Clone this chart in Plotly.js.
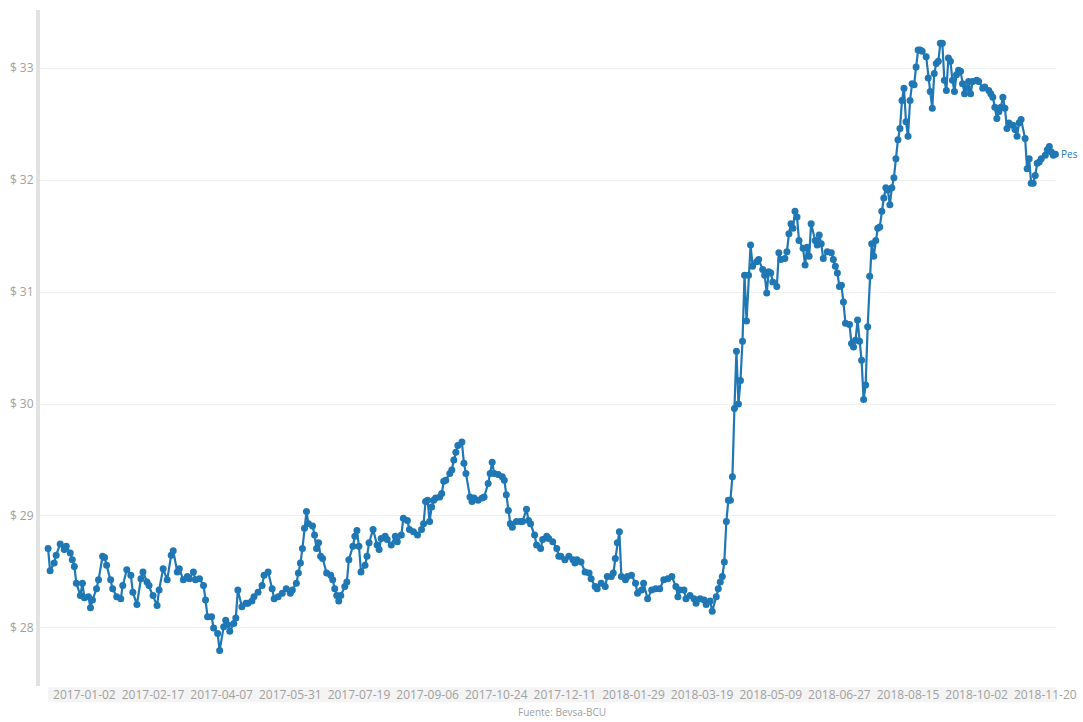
<!DOCTYPE html>
<html>
<head>
<meta charset="utf-8">
<script src="https://cdn.plot.ly/plotly-3.0.1.min.js"></script>
<style>
  html, body { margin: 0; padding: 0; background: #fff; }
  #chart { width: 1083px; height: 722px; }
</style>
</head>
<body>
<div id="chart"></div>
<script>
// Trading session number (0 = first session shown) and price in $ per USD
const sessions = [
  0,1,3,4,6,8,9,11,12,13,14,16,17,18,20,21,22,24,25,27,28,29,31,32,34,36,37,39,41,42,44,46,47,49,50,52,54,55,57,59,
  61,62,64,65,67,69,70,72,73,75,77,78,79,81,82,84,85,87,88,89,90,92,93,94,96,98,99,101,102,104,106,107,109,111,112,114,116,118,120,121,
  123,124,125,126,127,128,129,131,132,133,134,135,136,138,140,141,142,143,144,145,147,148,149,151,152,153,154,155,157,158,159,161,163,164,165,167,168,170,172,173,
  175,176,178,179,181,183,185,186,187,188,189,190,191,192,194,195,196,197,199,200,201,202,203,205,206,207,209,210,211,213,215,216,218,219,220,221,223,225,226,227,
  228,229,230,232,234,235,237,238,239,241,242,244,245,247,248,250,252,253,254,256,258,260,261,262,264,266,268,269,271,272,274,276,277,279,280,281,282,283,284,286,
  287,289,291,292,294,295,297,299,301,303,305,307,309,311,312,313,315,316,318,320,321,323,325,326,328,329,331,332,333,334,335,336,337,338,339,340,341,342,343,344,
  345,346,347,348,349,351,352,354,355,356,357,358,359,361,362,363,365,366,367,368,369,370,371,372,374,375,376,377,378,380,381,382,383,384,386,388,389,390,391,392,
  393,394,395,397,398,399,400,401,402,403,404,405,406,407,408,409,410,411,412,413,414,415,416,417,418,419,420,421,422,423,424,425,426,427,428,429,430,431,432,433,
  435,436,437,438,439,440,441,442,443,444,445,446,447,448,449,450,451,452,453,454,455,456,457,458,460,461,463,464,466,467,468,469,470,471,472,473,474,475,476,478,
  479,480,481,482,484,485,486,487,488,489,490,491,492,494,495,496,497,498,499
];
const prices = [
  28.71,28.51,28.58,28.65,28.75,28.70,28.73,28.67,28.61,28.55,28.40,28.29,28.40,28.27,28.28,28.18,28.25,28.35,28.43,28.64,28.63,28.56,28.43,28.35,28.28,28.26,28.38,28.52,28.47,28.32,28.21,28.44,28.50,28.41,28.38,28.29,28.20,28.34,28.53,28.43,
  28.65,28.69,28.50,28.53,28.43,28.46,28.44,28.50,28.43,28.44,28.38,28.25,28.10,28.10,28.00,27.95,27.80,28.01,28.07,28.03,27.97,28.04,28.09,28.34,28.19,28.22,28.22,28.24,28.28,28.32,28.38,28.47,28.50,28.35,28.26,28.28,28.31,28.35,28.31,28.34,
  28.40,28.49,28.58,28.71,28.89,29.04,28.93,28.91,28.83,28.71,28.76,28.64,28.62,28.49,28.47,28.43,28.35,28.29,28.24,28.29,28.37,28.41,28.61,28.73,28.82,28.87,28.73,28.50,28.56,28.64,28.76,28.88,28.74,28.70,28.80,28.82,28.79,28.74,28.82,28.77,
  28.83,28.98,28.96,28.88,28.86,28.83,28.88,28.93,29.13,29.14,28.95,29.08,29.14,29.16,29.17,29.20,29.31,29.32,29.38,29.41,29.50,29.57,29.63,29.66,29.47,29.38,29.17,29.13,29.16,29.14,29.16,29.17,29.29,29.38,29.48,29.38,29.37,29.35,29.32,29.19,
  29.05,28.93,28.90,28.95,28.95,28.95,29.06,28.96,28.93,28.83,28.74,28.71,28.79,28.82,28.80,28.77,28.71,28.64,28.64,28.61,28.64,28.61,28.58,28.61,28.59,28.50,28.49,28.44,28.37,28.35,28.40,28.37,28.46,28.46,28.49,28.62,28.76,28.86,28.46,28.43,
  28.46,28.47,28.40,28.31,28.34,28.40,28.26,28.34,28.35,28.35,28.43,28.44,28.46,28.37,28.28,28.34,28.34,28.26,28.29,28.26,28.22,28.26,28.25,28.21,28.24,28.15,28.28,28.35,28.41,28.46,28.59,28.95,29.14,29.14,29.35,29.96,30.47,30.00,30.21,30.56,
  31.15,30.74,31.15,31.42,31.23,31.27,31.29,31.20,31.15,30.99,31.18,31.17,31.09,31.05,31.35,31.29,31.30,31.36,31.52,31.61,31.57,31.72,31.67,31.46,31.39,31.24,31.40,31.32,31.61,31.46,31.42,31.51,31.43,31.30,31.36,31.35,31.29,31.23,31.17,31.05,
  31.06,30.91,30.72,30.71,30.54,30.51,30.57,30.75,30.56,30.39,30.04,30.17,30.69,31.14,31.43,31.32,31.46,31.57,31.58,31.72,31.84,31.93,31.91,31.78,31.93,32.02,32.19,32.36,32.46,32.71,32.82,32.52,32.39,32.71,32.86,32.85,33.01,33.16,33.16,33.15,
  33.10,32.91,32.79,32.64,32.95,33.04,33.06,33.22,33.22,32.89,32.80,33.09,33.06,32.89,32.79,32.94,32.98,32.97,32.86,32.77,32.82,32.88,32.77,32.88,32.89,32.88,32.82,32.83,32.80,32.77,32.74,32.65,32.55,32.61,32.65,32.74,32.64,32.46,32.51,32.49,
  32.45,32.39,32.51,32.54,32.37,32.10,32.19,31.97,31.97,32.04,32.15,32.16,32.19,32.22,32.27,32.30,32.25,32.22,32.23
];

// x-axis tick labels (dates) and the session each one falls on
const tickLabels = ['2017-01-02','2017-02-17','2017-04-07','2017-05-31','2017-07-19','2017-09-06','2017-10-24',
  '2017-12-11','2018-01-29','2018-03-19','2018-05-09','2018-06-27','2018-08-15','2018-10-02','2018-11-20'];
const tickSessions = [18,52,86,120,154,188,222,256,290,324,358,392,426,460,494];

// y-axis ticks
const yTicks = [28,29,30,31,32,33];
const yTickText = yTicks.map(v => '$ ' + v);

// end-of-line label as visible in the reference, and source note
const seriesLabel = 'Pes';
const sourceNote = 'Fuente: Bevsa-BCU';

const blue = '#1f77b4';
const gray = '#a0a0a0';

const trace = {
  x: sessions,
  y: prices,
  type: 'scatter',
  mode: 'lines+markers',
  name: seriesLabel,
  line: { color: blue, width: 2.2 },
  marker: { color: blue, size: 7 },
  cliponaxis: false,
  hoverinfo: 'y'
};

const layout = {
  width: 1083,
  height: 722,
  margin: { l: 40, r: 27, t: 10, b: 36 },
  paper_bgcolor: '#ffffff',
  plot_bgcolor: '#ffffff',
  showlegend: false,
  font: { family: '"Open Sans", sans-serif', size: 12, color: gray },
  xaxis: {
    range: [-4, 499.3],
    tickmode: 'array',
    tickvals: tickSessions,
    ticktext: tickLabels,
    showgrid: false,
    zeroline: false,
    showline: false,
    ticks: '',
    tickfont: { size: 12, color: gray }
  },
  yaxis: {
    range: [27.482, 33.518],
    tickmode: 'array',
    tickvals: yTicks,
    ticktext: yTickText,
    showgrid: true,
    gridcolor: '#f0f0f0',
    gridwidth: 1,
    zeroline: false,
    showline: true,
    linecolor: '#e2e2e2',
    linewidth: 4,
    ticks: '',
    tickfont: { size: 12, color: gray }
  },
  shapes: [{
    type: 'rect', layer: 'below',
    xref: 'paper', yref: 'paper',
    x0: 0.008, x1: 1.0, y0: -0.024, y1: -0.002,
    fillcolor: '#f4f4f4', line: { width: 0 }
  }],
  annotations: [
    {
      text: sourceNote,
      xref: 'paper', yref: 'paper',
      x: 0.514, y: -0.039,
      xanchor: 'center', yanchor: 'middle',
      showarrow: false,
      font: { size: 10, color: gray }
    },
    {
      text: seriesLabel,
      xref: 'x', yref: 'y',
      x: sessions[sessions.length - 1], y: prices[prices.length - 1],
      xanchor: 'left', yanchor: 'middle',
      xshift: 4,
      showarrow: false,
      font: { size: 10, color: blue }
    }
  ]
};

Plotly.newPlot('chart', [trace], layout, { displayModeBar: false, staticPlot: true });
</script>
</body>
</html>
